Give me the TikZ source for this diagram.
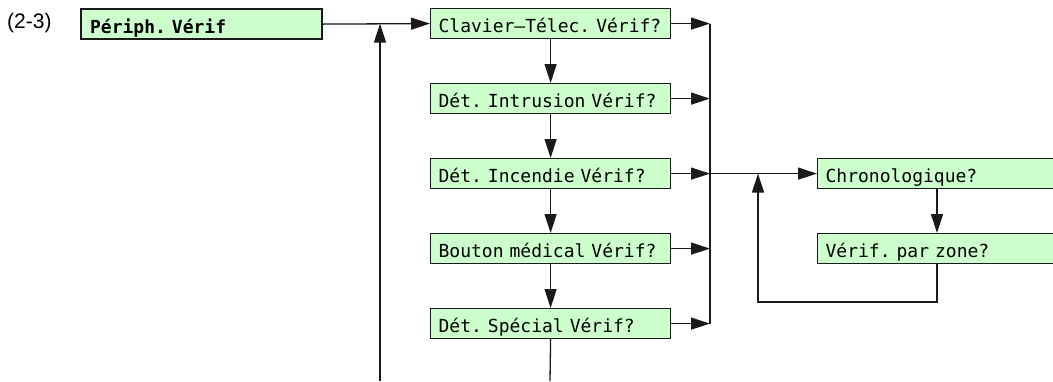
\documentclass[tikz,border=0pt]{standalone}
\usepackage{fontspec}
\setmainfont{Liberation Sans}
\newfontfamily\boxfont{DejaVu Sans Mono}
\usetikzlibrary{arrows.meta}
\definecolor{boxgreen}{HTML}{CCFFCC}
\definecolor{ink}{HTML}{1A1A1A}
\frenchspacing
% monospaced text with a full-cell word space
\newcommand\cellfont[1][\mdseries]{\boxfont#1\fontsize{18}{20}\selectfont
  \fontdimen2\font=0.602em\fontdimen3\font=0pt\fontdimen4\font=0pt\fontdimen7\font=0pt}
\tikzset{
  x=1pt, y=-1pt,
  flowbox/.style={draw=ink, line width=1.2pt, fill=boxgreen, rectangle,
    minimum height=30pt, inner xsep=8pt, inner ysep=0pt,
    text height=24pt, text depth=6pt, align=left, font=\cellfont},
  colbox/.style={flowbox, text width=224pt},
  rightbox/.style={flowbox, text width=267pt},
  headbox/.style={flowbox, line width=2.2pt, text width=223pt, inner xsep=9pt,
    font=\cellfont[\bfseries]},
  link/.style={draw=ink, line width=1.3pt},
  flow/.style={link, -{Triangle[length=19pt,width=12pt]}},
}
\begin{document}
\begin{tikzpicture}
\clip (0,0) rectangle (1053,381);
\fill[white] (0,0) rectangle (1053,381);

\node[font=\fontsize{21}{24}\selectfont, anchor=west, inner sep=0pt] (tag) at (7,23) {(2-3)};

\node[headbox, anchor=north west] (periph) at (80,8) {Périph. Vérif};

\node[colbox, anchor=north west] (clav) at (430,8)   {Clavier–Télec. Vérif?};
\node[colbox, anchor=north west] (intr) at (430,83)  {Dét. Intrusion Vérif?};
\node[colbox, anchor=north west] (inc)  at (430,158) {Dét. Incendie Vérif?};
\node[colbox, anchor=north west] (med)  at (430,233) {Bouton médical Vérif?};
\node[colbox, anchor=north west] (spec) at (430,308) {Dét. Spécial Vérif?};

\node[rightbox, anchor=north west] (chrono) at (817,158) {Chronologique?};
\node[rightbox, anchor=north west] (zone)   at (817,233) {Vérif. par zone?};

% free ends and turning points
\coordinate (inlet) at (380,381);
\coordinate (outlet) at (550,381);
\coordinate (bus) at (710,0);
\coordinate (drop) at (937,0);
\coordinate (ret) at (758,302);

% entry
\draw[flow] (periph.east) -- (clav.west);
\draw[flow] (inlet) -- (inlet |- clav.west);

% column chain
\draw[flow] (clav.south) -- (intr.north);
\draw[flow] (intr.south) -- (inc.north);
\draw[flow] (inc.south) -- (med.north);
\draw[flow] (med.south) -- (spec.north);
\draw[link] (spec.south) -- (outlet);

% collector bus
\foreach \b in {clav,intr,inc,med,spec}
  \draw[flow] (\b.east) -- (bus |- \b.east);
\draw[link] (bus |- clav.east) -- (bus |- spec.east);
\draw[flow] (bus |- inc.east) -- (chrono.west);

% right-hand loop
\draw[flow] (drop |- chrono.south) -- (drop |- zone.north);
\draw[flow] (drop |- zone.south) |- (ret) -- (ret |- chrono.west);
\end{tikzpicture}
\end{document}
